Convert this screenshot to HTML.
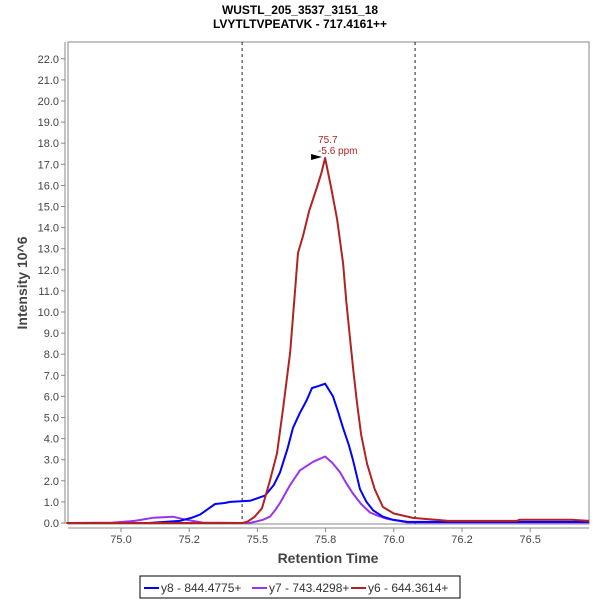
<!DOCTYPE html>
<html><head><meta charset="utf-8"><style>
body{margin:0;background:#fff}
svg{font-family:"Liberation Sans",sans-serif}
</style></head><body>
<svg id="chart" width="600" height="600" viewBox="0 0 600 600">
<rect width="600" height="600" fill="#fff"/>
<text x="300" y="14" text-anchor="middle" font-size="12" font-weight="bold" fill="#000">WUSTL_205_3537_3151_18</text>
<text x="300" y="28" text-anchor="middle" font-size="12" font-weight="bold" fill="#000">LVYTLTVPEATVK - 717.4161++</text>
<rect x="68" y="42" width="521" height="482" fill="#fff" stroke="#888"/>
<line x1="65" y1="42" x2="65" y2="524" stroke="#888"/>
<line x1="68" y1="528" x2="589" y2="528" stroke="#888"/>
<g id="yticks"></g><g id="xticks"></g><g id="markers"></g><g id="series"></g>
<text x="328" y="563" text-anchor="middle" font-size="14" font-weight="bold" fill="#444">Retention Time</text>
<text transform="translate(27,283) rotate(-90)" text-anchor="middle" font-size="14" font-weight="bold" fill="#444">Intensity 10^6</text>
<g>
<rect x="140" y="576" width="320" height="22" fill="#fff" stroke="#000"/>
<g><line x1="144" y1="588" x2="159" y2="588" stroke="#0000ff" stroke-width="2"/><text x="161" y="592" font-size="12" fill="#333">y8 - 844.4775+</text></g>
<g><line x1="252" y1="588" x2="267" y2="588" stroke="#9933ee" stroke-width="2"/><text x="269" y="592" font-size="12" fill="#333">y7 - 743.4298+</text></g>
<g><line x1="351" y1="588" x2="366" y2="588" stroke="#b22222" stroke-width="2"/><text x="368" y="592" font-size="12" fill="#333">y6 - 644.3614+</text></g>
</g>
</svg>
<script>
const yTicks=[0,1,2,3,4,5,6,7,8,9,10,11,12,13,14,15,16,17,18,19,20,21,22];
const xTicks=[75.0,75.25,75.5,75.75,76.0,76.25,76.5];
const xTickLabels=["75.0","75.2","75.5","75.8","76.0","76.2","76.5"];
const boundaries=[75.444,76.078];
const y8T=[74.8,75.1,75.216,75.26,75.29,75.345,75.38,75.40,75.473,75.528,75.56,75.583,75.61,75.63,75.655,75.68,75.70,75.725,75.748,75.777,75.795,75.814,75.835,75.85,75.876,75.9,75.924,75.96,75.997,76.05,76.716];
const y8V=[0,0,0.1,0.25,0.4,0.9,0.95,1.0,1.05,1.3,1.8,2.4,3.5,4.5,5.2,5.8,6.4,6.5,6.6,6.0,5.3,4.5,3.7,3.0,1.6,1.0,0.6,0.3,0.15,0.05,0.05];
const y7T=[74.8,74.97,75.05,75.12,75.19,75.24,75.3,75.47,75.49,75.52,75.546,75.565,75.583,75.62,75.656,75.704,75.748,75.775,75.803,75.825,75.85,75.88,75.913,75.94,75.975,76.05,76.716];
const y7V=[0,0.02,0.1,0.25,0.3,0.15,0.02,0,0.05,0.15,0.3,0.6,0.95,1.8,2.5,2.9,3.15,2.85,2.4,1.9,1.4,0.9,0.5,0.35,0.2,0.03,0.03];
const y6T=[74.8,75.444,75.462,75.49,75.517,75.546,75.572,75.595,75.62,75.635,75.649,75.667,75.69,75.718,75.735,75.748,75.77,75.792,75.814,75.826,75.839,75.852,75.865,75.88,75.902,75.93,75.96,76.0,76.07,76.2,76.45,76.46,76.65,76.716];
const y6V=[0,0,0.05,0.3,0.7,2.0,3.3,5.5,8.06,10.5,12.8,13.6,14.8,15.9,16.6,17.3,15.9,14.4,12.3,10.5,8.8,7.2,5.7,4.2,2.8,1.6,0.76,0.45,0.24,0.1,0.1,0.15,0.15,0.1];
const peakTime=75.748, peakValue=17.3;
const X=t=>121+(t-75.0)*272.8;
const Y=v=>523-v*21.1;
const NS="http://www.w3.org/2000/svg";
function mk(tag,attrs,parent){const e=document.createElementNS(NS,tag);for(const k in attrs)e.setAttribute(k,attrs[k]);parent.appendChild(e);return e;}
const yg=document.getElementById('yticks');
yTicks.forEach(v=>{
 const l=mk('line',{x1:61,x2:65,y1:Y(v),y2:Y(v),stroke:'#888'},yg);
 
 
 const t=mk('text',{x:59,y:Y(v)+4,'text-anchor':'end','font-size':11,fill:'#444'},yg);
 t.textContent=v.toFixed(1);
 
 
});
const xg=document.getElementById('xticks');
xTicks.forEach((v,i)=>{
 const l=mk('line',{x1:X(v),x2:X(v),y1:528,y2:532,stroke:'#888'},xg);
 
 
 const t=mk('text',{x:X(v),y:543,'text-anchor':'middle','font-size':11,fill:'#444'},xg);
 t.textContent=xTickLabels[i];
 
 
});
const mg=document.getElementById('markers');
boundaries.forEach(b=>{
 const l=mk('line',{x1:X(b),x2:X(b),y1:42,y2:524,stroke:'#222','stroke-dasharray':'3,3'},mg);
 
 
});
const sg=document.getElementById('series');
function series(T,V,color,name){
 const pts=T.map((t,i)=>X(t).toFixed(1)+','+Y(V[i]).toFixed(1)).join(' ');
 const p=mk('polyline',{points:pts,fill:'none',stroke:color,'stroke-width':2,'stroke-linejoin':'round'},sg);
 
 
}
series(y7T,y7V,'#9933ee','series-y7');
series(y8T,y8V,'#0000ff','series-y8');
series(y6T,y6V,'#b22222','series-y6');
const px=X(peakTime),py=Y(peakValue);
const tri=mk('polygon',{points:`${px-14},${py-4} ${px-3},${py-1} ${px-14},${py+2}`,fill:'#000'},sg);


const a1=mk('text',{x:px-7,y:py-15,'font-size':10,fill:'#b22222'},sg);
a1.textContent='75.7';


const a2=mk('text',{x:px-7,y:py-4,'font-size':10,fill:'#b22222'},sg);
a2.textContent='-5.6 ppm';


</script>
</body></html>
